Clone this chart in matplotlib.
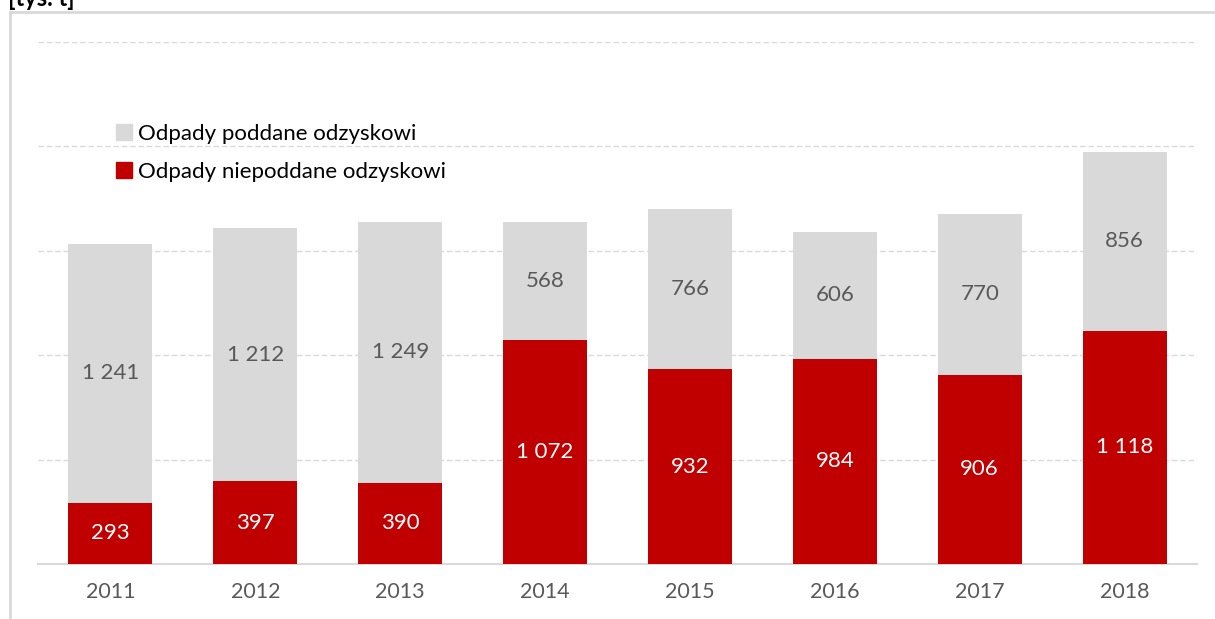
import matplotlib
matplotlib.use("Agg")
import matplotlib.pyplot as plt
from matplotlib.lines import Line2D
from matplotlib.patches import Patch

years = ['2011', '2012', '2013', '2014', '2015', '2016', '2017', '2018']
niepoddane = [293, 397, 390, 1072, 932, 984, 906, 1118]
poddane = [1241, 1212, 1249, 568, 766, 606, 770, 856]

RED = '#C00000'
GRAY = '#D9D9D9'
TXT = '#595959'


def fmt(v):
    return '{:,}'.format(v).replace(',', ' ')


plt.rcParams['font.family'] = ['Lato', 'DejaVu Sans']

W, H = 1215, 619
fig = plt.figure(figsize=(W / 100, H / 100), dpi=100)
ax = fig.add_axes([38 / W, 1 - 564 / H, (1197 - 38) / W, (564 - 42) / H])

X = range(len(years))
ax.bar(X, niepoddane, width=0.58, color=RED, zorder=3)
ax.bar(X, poddane, width=0.58, bottom=niepoddane, color=GRAY, zorder=3)

for i in X:
    ax.text(i, niepoddane[i] / 2, fmt(niepoddane[i]), ha='center', va='center',
            color='white', fontsize=16, zorder=4)
    ax.text(i, niepoddane[i] + poddane[i] / 2, fmt(poddane[i]), ha='center', va='center',
            color=TXT, fontsize=16, zorder=4)

ax.set_xlim(-0.5, len(years) - 0.5)
ax.set_ylim(0, 2500)
ax.set_yticks([500, 1000, 1500, 2000, 2500])
ax.yaxis.grid(True, linestyle=(0, (4, 2)), color=GRAY, linewidth=1)
ax.set_yticklabels([])
ax.tick_params(axis='y', length=0)
ax.set_xticks(list(X))
ax.set_xticklabels(years, color=TXT, fontsize=15.5)
ax.tick_params(axis='x', length=0, pad=13)
for s in ['top', 'right', 'left']:
    ax.spines[s].set_visible(False)
ax.spines['bottom'].set_color(GRAY)
ax.spines['bottom'].set_linewidth(1.5)

handles = [Patch(color=GRAY, label='Odpady poddane odzyskowi'),
           Patch(color=RED, label='Odpady niepoddane odzyskowi')]
fig.legend(handles=handles, loc='upper left', bbox_to_anchor=(96 / W, 1 - 104 / H),
           frameon=False, fontsize=16, handlelength=0.7, handleheight=0.7,
           handletextpad=0.3, labelspacing=0.8)

# frame
fig.add_artist(Line2D([9.5 / W, 9.5 / W], [0, 1 - 12 / H], color=GRAY, linewidth=2))
fig.add_artist(Line2D([9.5 / W, 1], [1 - 12 / H, 1 - 12 / H], color=GRAY, linewidth=2))

fig.text(8 / W, 1 - 6 / H, '[tys. t]', fontsize=17, fontweight='bold', ha='left',
         va='baseline', color='black')

fig.savefig('out.png', dpi=100)
